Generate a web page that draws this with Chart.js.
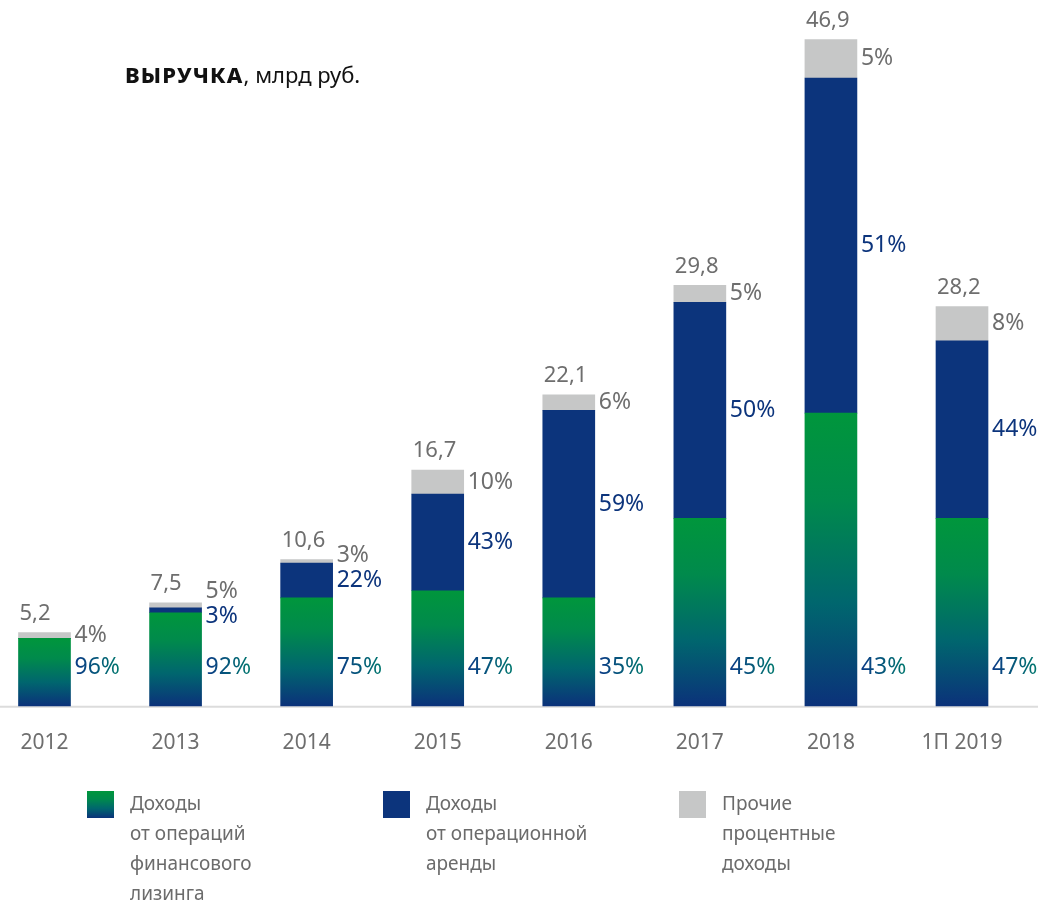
<!DOCTYPE html>
<html lang="ru">
<head>
<meta charset="utf-8">
<script src="https://cdn.jsdelivr.net/npm/chart.js@4"></script>
<style>
  body { margin: 0; background: #fff; font-family: "Noto Sans", sans-serif; }
  #wrap { position: relative; width: 1038px; height: 900px; }
  #chartBox { position: absolute; left: 0; top: 0; width: 1038px; height: 790px; }
  .title { position: absolute; left: 125px; top: 59px; font-size: 22px; color: #111; }
  .title b { letter-spacing: 1.2px; font-weight: 800; }
  .legend-item { position: absolute; top: 788px; font-size: 19px; line-height: 30px; color: #6b6b6b; }
  .legend-item i { position: absolute; left: -43px; top: 3px; width: 27px; height: 27px; }
</style>
</head>
<body>
<div id="wrap">
  <div id="chartBox"><canvas id="revenueChart"></canvas></div>
  <div class="title"><b>ВЫРУЧКА</b>, млрд руб.</div>
  <div class="legend-item" style="left:130px"><i style="background:linear-gradient(#00963c,#008a4c 30%,#00666e 65%,#0b327a)"></i>Доходы<br>от операций<br>финансового<br>лизинга</div>
  <div class="legend-item" style="left:426px"><i style="background:#0c347c"></i>Доходы<br>от операционной<br>аренды</div>
  <div class="legend-item" style="left:722px"><i style="background:#c6c7c7"></i>Прочие<br>процентные<br>доходы</div>
</div>
<script>
const categories = ['2012', '2013', '2014', '2015', '2016', '2017', '2018', '1П 2019'];
const totals = ['5,2', '7,5', '10,6', '16,7', '22,1', '29,8', '46,9', '28,2'];

// млрд руб.
const financeLeasing = [4.75, 6.55, 7.6, 8.1, 7.6, 13.2, 20.6, 13.2];
const operatingLease = [0, 0.35, 2.45, 6.8, 13.2, 15.2, 23.6, 12.5];
const otherInterest = [0.4, 0.35, 0.25, 1.7, 1.1, 1.2, 2.7, 2.4];

const financeShare = ['96%', '92%', '75%', '47%', '35%', '45%', '43%', '47%'];
const operatingShare = ['', '3%', '22%', '43%', '59%', '50%', '51%', '44%'];
const otherShare = ['4%', '5%', '3%', '10%', '6%', '5%', '5%', '8%'];

const FONT = '"Noto Sans", sans-serif';
const GREY_TEXT = '#6e6e6e';
const BLUE = '#0c347c';

function greenGradient(ctx) {
  const chart = ctx.chart;
  const ys = chart.scales.y;
  if (!ys || ctx.type !== 'data') return '#00963c';
  const top = ys.getPixelForValue(financeLeasing[ctx.dataIndex]);
  const bot = ys.getPixelForValue(0);
  if (!isFinite(top) || !isFinite(bot)) return '#00963c';
  const g = chart.ctx.createLinearGradient(0, top, 0, bot);
  g.addColorStop(0, '#00963c');
  g.addColorStop(0.3, '#008a4c');
  g.addColorStop(0.65, '#00666e');
  g.addColorStop(1, '#0b327a');
  return g;
}

const labelPlugin = {
  id: 'labels',
  beforeDatasetsDraw(chart) {
    const c = chart.ctx;
    const y0 = chart.scales.y.getPixelForValue(0);
    c.save();
    c.strokeStyle = '#dcdcdc';
    c.lineWidth = 2;
    c.beginPath();
    c.moveTo(0, y0 + 1);
    c.lineTo(chart.width, y0 + 1);
    c.stroke();
    c.restore();
  },
  afterDatasetsDraw(chart) {
    const c = chart.ctx;
    const m1 = chart.getDatasetMeta(1).data;
    const m2 = chart.getDatasetMeta(2).data;
    const y0 = chart.scales.y.getPixelForValue(0);
    c.save();
    c.textBaseline = 'middle';
    c.textAlign = 'left';
    categories.forEach((cat, i) => {
      const grey = m2[i], blue = m1[i];
      const left = grey.x - grey.width / 2;
      const lx = grey.x + grey.width / 2 + 4;
      const top = grey.y;

      c.font = '22px ' + FONT;
      c.fillStyle = GREY_TEXT;
      c.fillText(totals[i], left + 1, top - 19);

      c.font = '23px ' + FONT;
      let blueY = null;
      if (operatingShare[i]) {
        blueY = Math.max((blue.y + blue.base) / 2, top + 14);
        c.fillStyle = BLUE;
        c.fillText(operatingShare[i], lx, blueY);
      }
      let greyY = (grey.y + grey.base) / 2;
      if (blueY !== null) greyY = Math.min(greyY, blueY - 25);
      c.fillStyle = GREY_TEXT;
      c.fillText(otherShare[i], lx, greyY);

      const w = c.measureText(financeShare[i]).width;
      const g = c.createLinearGradient(lx, 0, lx + w, 0);
      g.addColorStop(0, '#0b3a86');
      g.addColorStop(1, '#00786e');
      c.fillStyle = g;
      c.fillText(financeShare[i], lx, y0 - 38);
    });
    c.restore();
  }
};

new Chart(document.getElementById('revenueChart'), {
  type: 'bar',
  data: {
    labels: categories,
    datasets: [
      { label: 'Доходы от операций финансового лизинга', data: financeLeasing, backgroundColor: greenGradient },
      { label: 'Доходы от операционной аренды', data: operatingLease, backgroundColor: BLUE },
      { label: 'Прочие процентные доходы', data: otherInterest, backgroundColor: '#c6c7c7' }
    ]
  },
  options: {
    responsive: true,
    maintainAspectRatio: false,
    animation: false,
    datasets: { bar: { barThickness: 52, borderWidth: 0, clip: false } },
    layout: { padding: { left: 44.5, right: 76, top: 24, bottom: 17 } },
    plugins: { legend: { display: false }, tooltip: { enabled: false } },
    scales: {
      x: {
        stacked: true,
        offset: false,
        grid: { display: false },
        border: { display: false },
        ticks: { color: GREY_TEXT, font: { family: FONT, size: 21 }, padding: 17, maxRotation: 0 }
      },
      y: { stacked: true, display: false, min: 0, max: 48 }
    }
  },
  plugins: [labelPlugin]
});
</script>
</body>
</html>
